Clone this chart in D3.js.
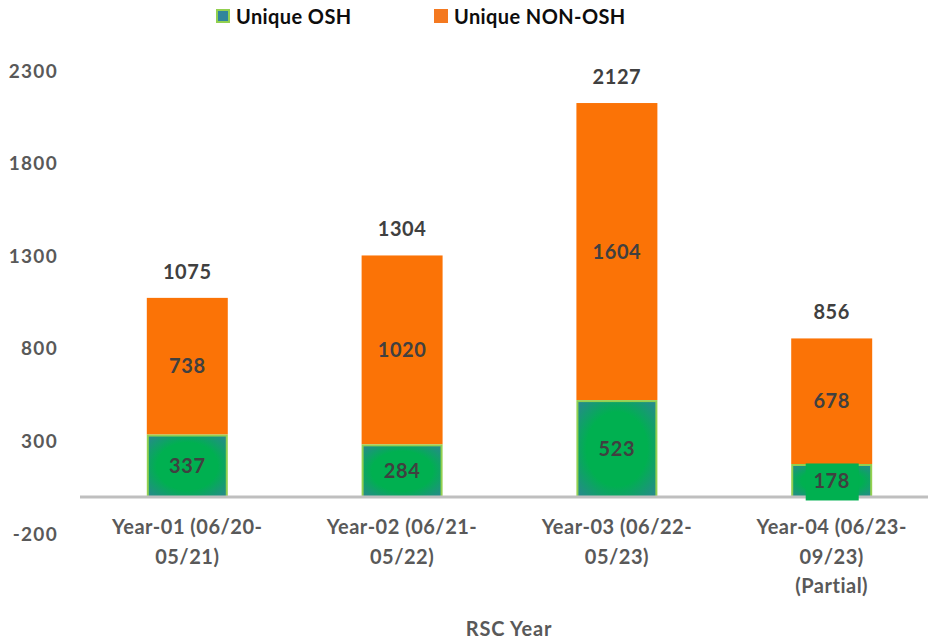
<!DOCTYPE html>
<html><head><meta charset="utf-8">
<script src="https://cdn.jsdelivr.net/npm/d3@7"></script>
<style>body{margin:0;background:#fff}svg{display:block}text{font-family:Lato,"Open Sans",sans-serif;font-weight:bold}</style>
</head><body><svg id="c" width="928" height="643"></svg>
<script>
const categories = [["Year-01 (06/20-","05/21)"],["Year-02 (06/21-","05/22)"],["Year-03 (06/22-","05/23)"],["Year-04 (06/23-","09/23)","(Partial)"]];
const oshValues = [337, 284, 523, 178];
const nonOshValues = [738, 1020, 1604, 678];
const totals = [1075, 1304, 2127, 856];
const yTicks = [-200, 300, 800, 1300, 1800, 2300];
const seriesNames = ["Unique OSH", "Unique NON-OSH"];

const svg = d3.select("#c");
const W = 928, H = 643;
const x = d3.scaleBand().domain(d3.range(categories.length)).range([80, 939]).paddingInner(0.623).paddingOuter(0.311);
const y = d3.scaleLinear().domain([-200, 2300]).range([534, 71]);

const defs = svg.append("defs");
const rg = defs.append("radialGradient").attr("id","gg").attr("cx","50%").attr("cy","50%").attr("r","70%");
rg.append("stop").attr("offset","0%").attr("stop-color","#00b050");
rg.append("stop").attr("offset","55%").attr("stop-color","#00b050");
rg.append("stop").attr("offset","100%").attr("stop-color","#2a8790");

// y axis labels
svg.append("g").selectAll("text").data(yTicks).join("text")
  .attr("x", 58).attr("y", d => y(d)).attr("dy","0.35em").attr("text-anchor","end")
  .attr("fill","#595959").attr("font-size", 19).attr("letter-spacing", 1.3).text(d => d);

// bars
const g = svg.append("g");
g.selectAll(".non").data(nonOshValues).join("rect")
  .attr("x",(d,i)=>x(i)).attr("width",x.bandwidth())
  .attr("y",(d,i)=>y(oshValues[i]+d)).attr("height",(d,i)=>y(oshValues[i])-y(oshValues[i]+d))
  .attr("fill","#fb7306");
g.selectAll(".osh").data(oshValues).join("rect")
  .attr("x",(d,i)=>x(i)+1).attr("width",x.bandwidth()-2)
  .attr("y",d=>y(d)+1).attr("height",d=>y(0)-y(d)-1)
  .attr("fill","url(#gg)").attr("stroke","#92d050").attr("stroke-width",2);

// axis line
svg.append("line").attr("x1",80).attr("x2",W).attr("y1",y(0)).attr("y2",y(0)).attr("stroke","#bfbfbf").attr("stroke-width",3);

// labels
const lab = svg.append("g").attr("fill","#404040").attr("font-size",20).attr("letter-spacing",0.6).attr("text-anchor","middle");
oshValues.forEach((d,i)=>{
  const cx = x(i)+x.bandwidth()/2;
  if (i===3) {
    lab.append("rect").attr("x",cx-26).attr("y",y(d/2)-17).attr("width",53).attr("height",37).attr("fill","#00b050");
  }
  lab.append("text").attr("x",cx).attr("y", i===3 ? y(d/2)+1 : y(d/2)).attr("dy","0.35em").text(d);
  lab.append("text").attr("x",cx).attr("y",y(d+nonOshValues[i]/2)).attr("dy","0.35em").text(nonOshValues[i]);
  lab.append("text").attr("x",cx).attr("y",y(totals[i])-26).attr("dy","0.35em").text(totals[i]);
});

// x tick labels
const xl = svg.append("g").attr("fill","#595959").attr("font-size",20).attr("letter-spacing",0.5).attr("text-anchor","middle");
categories.forEach((lines,i)=>{
  const cx = x(i)+x.bandwidth()/2;
  lines.forEach((t,j)=>{
    xl.append("text").attr("x",cx).attr("y",527+j*29.5).attr("dy","0.35em").text(t);
  });
});

// axis title
svg.append("text").attr("x",509).attr("y",629).attr("dy","0.35em").attr("text-anchor","middle")
  .attr("fill","#595959").attr("font-size",20).attr("letter-spacing",0.8).text("RSC Year");

// legend
const lg = svg.append("g");
lg.append("rect").attr("x",217).attr("y",10).attr("width",12).attr("height",12).attr("fill","#31859c").attr("stroke","#92d050").attr("stroke-width",2);
lg.append("text").attr("x",236).attr("y",17).attr("dy","0.35em").attr("font-size",20).attr("letter-spacing",0.4).attr("fill","#0d0d0d").text(seriesNames[0]);
lg.append("rect").attr("x",434).attr("y",9).attr("width",14).attr("height",14).attr("fill","#f47920");
lg.append("text").attr("x",454).attr("y",17).attr("dy","0.35em").attr("font-size",20).attr("letter-spacing",0.4).attr("fill","#0d0d0d").text(seriesNames[1]);
</script></body></html>
